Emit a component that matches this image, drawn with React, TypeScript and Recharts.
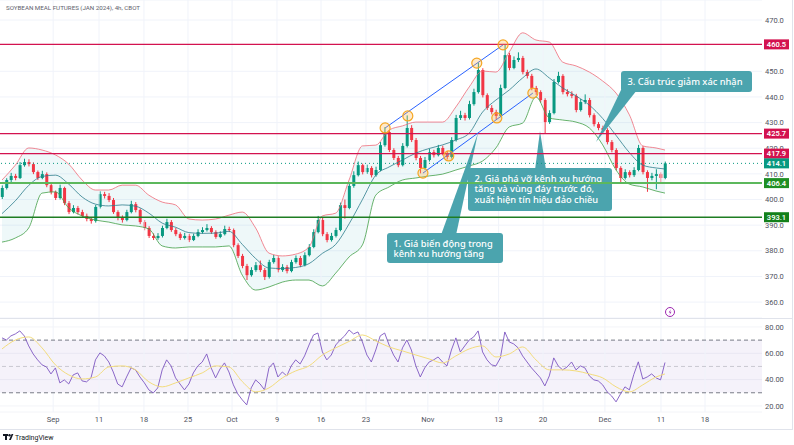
import React from "react";
import {
  ComposedChart,
  Bar,
  Line,
  Area,
  XAxis,
  YAxis,
  CartesianGrid,
  ReferenceLine,
  ReferenceDot,
  ReferenceArea,
} from "recharts";

// 4h candles (two bars per trading day)
const opens = [
  401.0, 404.5, 407.6, 409.2, 408.4, 413.4, 414.6, 413.8, 410.7, 408.4,
  409.9, 405.6, 402.9, 400.6, 404.5, 398.6, 395.1, 396.7, 395.1, 393.6,
  392.4, 391.6, 397.1, 402.1, 401.4, 399.8, 395.1, 392.8, 392.0, 395.1,
  398.2, 395.9, 391.2, 388.9, 385.8, 385.0, 385.8, 388.9, 391.2, 388.1,
  386.5, 385.0, 385.8, 384.2, 385.8, 387.3, 388.1, 388.9, 387.3, 385.4,
  386.5, 388.5, 388.1, 382.2, 378.0, 374.1, 370.5, 372.5, 374.4, 372.5,
  369.8, 375.6, 377.2, 372.5, 373.7, 372.1, 375.6, 377.2, 374.4, 378.3,
  381.5, 387.3, 392.0, 386.5, 384.2, 385.8, 388.1, 397.8, 396.7, 405.3,
  409.5, 413.4, 410.7, 412.3, 409.5, 411.5, 421.2, 426.3, 419.3, 416.2,
  413.4, 420.9, 427.9, 423.2, 416.2, 412.3, 415.4, 418.5, 417.3, 420.1,
  418.1, 416.6, 423.2, 431.8, 432.9, 431.8, 437.2, 441.9, 450.5, 440.7,
  435.7, 434.1, 432.6, 443.5, 456.3, 451.3, 454.4, 455.2, 449.7, 448.2,
  443.5, 441.9, 438.8, 430.2, 433.7, 445.8, 448.2, 441.9, 441.1, 440.4,
  434.9, 438.0, 438.8, 432.9, 429.4, 427.9, 427.1, 422.4, 419.3, 412.3,
  408.4, 410.7, 409.5, 411.5, 420.1, 410.7, 408.4, 409.2, 409.9, 408.4,
];
const highs = [
  405.5, 408.3, 410.4, 410.0, 414.6, 415.9, 415.7, 414.5, 411.3, 411.2,
  410.6, 406.4, 403.5, 405.8, 405.0, 399.4, 397.8, 397.5, 396.0, 394.5,
  393.2, 397.9, 403.2, 403.0, 402.5, 400.6, 395.8, 393.8, 396.0, 399.5,
  399.0, 396.5, 392.0, 389.6, 386.8, 386.9, 389.8, 392.5, 392.0, 389.0,
  387.2, 387.0, 386.6, 386.7, 388.4, 389.2, 390.4, 389.6, 388.0, 387.6,
  389.8, 389.4, 388.7, 382.9, 378.8, 374.9, 373.6, 375.6, 376.2, 373.3,
  376.5, 378.4, 377.9, 374.8, 374.5, 376.5, 378.2, 378.0, 379.4, 382.6,
  388.4, 393.6, 392.8, 387.3, 387.0, 389.0, 398.8, 400.0, 406.5, 411.0,
  414.8, 414.0, 413.6, 413.0, 412.8, 422.4, 428.2, 427.0, 420.0, 417.0,
  422.0, 432.8, 429.0, 424.0, 417.0, 416.6, 419.8, 419.4, 421.3, 421.0,
  419.0, 424.3, 433.0, 434.6, 433.8, 438.5, 443.2, 453.4, 451.2, 441.4,
  436.8, 435.0, 444.8, 460.4, 457.2, 455.8, 457.4, 456.0, 450.6, 449.0,
  444.3, 442.6, 439.5, 434.8, 447.0, 449.8, 448.9, 443.0, 442.2, 441.2,
  439.2, 441.0, 439.6, 433.6, 430.2, 428.8, 427.8, 423.2, 420.0, 413.0,
  411.8, 411.4, 412.6, 421.3, 420.8, 411.4, 410.4, 411.8, 410.6, 414.8,
];
const lows = [
  400.2, 403.9, 406.8, 407.5, 408.0, 412.8, 412.9, 409.9, 407.6, 407.9,
  404.8, 402.0, 399.8, 400.0, 397.8, 394.3, 394.6, 394.2, 392.8, 391.5,
  390.6, 391.0, 396.5, 400.4, 399.0, 394.4, 391.9, 391.0, 391.5, 394.6,
  395.0, 390.4, 388.0, 385.0, 384.2, 384.3, 385.2, 388.4, 387.4, 385.7,
  384.2, 384.4, 383.4, 383.8, 385.3, 386.7, 387.5, 386.6, 384.7, 384.9,
  386.0, 387.3, 381.4, 377.2, 373.2, 368.6, 369.9, 371.8, 371.7, 368.6,
  369.2, 375.0, 371.6, 371.8, 371.2, 371.6, 375.0, 373.6, 373.9, 377.8,
  381.0, 386.8, 385.7, 383.3, 383.6, 385.2, 387.6, 392.5, 396.2, 404.6,
  409.0, 409.8, 410.0, 408.6, 408.9, 411.0, 420.6, 418.5, 415.4, 412.6,
  412.9, 420.3, 422.4, 415.3, 410.2, 411.6, 414.8, 416.4, 416.8, 417.2,
  415.6, 416.0, 422.6, 431.0, 430.8, 431.2, 436.6, 441.3, 439.8, 434.9,
  433.2, 431.2, 432.1, 443.0, 450.4, 450.8, 453.6, 448.8, 447.2, 442.6,
  440.8, 437.8, 425.9, 429.5, 433.2, 445.2, 441.0, 440.2, 439.5, 434.0,
  434.3, 437.2, 432.0, 428.5, 427.0, 426.2, 421.5, 418.4, 411.4, 406.8,
  407.8, 408.6, 408.8, 411.0, 409.8, 403.0, 407.5, 404.0, 406.5, 407.9,
];
const closes = [
  404.5, 407.6, 409.2, 408.4, 413.4, 414.6, 413.8, 410.7, 408.4, 409.9,
  405.6, 402.9, 400.6, 404.5, 398.6, 395.1, 396.7, 395.1, 393.6, 392.4,
  391.6, 397.1, 402.1, 401.4, 399.8, 395.1, 392.8, 392.0, 395.1, 398.2,
  395.9, 391.2, 388.9, 385.8, 385.0, 385.8, 388.9, 391.2, 388.1, 386.5,
  385.0, 385.8, 384.2, 385.8, 387.3, 388.1, 388.9, 387.3, 385.4, 386.5,
  388.5, 388.1, 382.2, 378.0, 374.1, 370.5, 372.5, 374.4, 372.5, 369.8,
  375.6, 377.2, 372.5, 373.7, 372.1, 375.6, 377.2, 374.4, 378.3, 381.5,
  387.3, 392.0, 386.5, 384.2, 385.8, 388.1, 397.8, 396.7, 405.3, 409.5,
  413.4, 410.7, 412.3, 409.5, 411.5, 421.2, 426.3, 419.3, 416.2, 413.4,
  420.9, 427.9, 423.2, 416.2, 412.3, 415.4, 418.5, 417.3, 420.1, 418.1,
  416.6, 423.2, 431.8, 432.9, 431.8, 437.2, 441.9, 450.5, 440.7, 435.7,
  434.1, 432.6, 443.5, 456.3, 451.3, 454.4, 455.2, 449.7, 448.2, 443.5,
  441.9, 438.8, 430.2, 433.7, 445.8, 448.2, 441.9, 441.1, 440.4, 434.9,
  438.0, 438.8, 432.9, 429.4, 427.9, 427.1, 422.4, 419.3, 412.3, 408.4,
  410.7, 409.5, 411.5, 420.1, 410.7, 408.4, 409.2, 409.9, 408.4, 414.1,
];

// Bollinger bands, read every third bar
const bandIdx = [
  0, 3, 6, 9, 12, 15, 18, 21, 24, 27, 30, 33, 36, 39, 42, 45, 48, 51, 54, 57,
  60, 63, 66, 69, 72, 75, 78, 81, 84, 87, 90, 93, 96, 99, 102, 105, 108, 111,
  114, 117, 120, 123, 126, 129, 132, 135, 138, 141, 144, 147, 149,
];
const bbUpper = [
  407.6, 413.4, 420.1, 419.3, 417.4, 413.8, 407.6, 403.7, 403.7, 405.6,
  405.6, 401.7, 399.0, 397.9, 392.4, 392.0, 392.4, 393.9, 395.1, 388.9,
  379.1, 378.0, 378.7, 381.5, 393.6, 394.7, 407.6, 420.9, 421.2, 427.1,
  428.7, 430.2, 430.2, 430.2, 436.1, 443.9, 450.1, 449.7, 457.5, 465.0,
  462.2, 461.4, 453.6, 452.1, 449.7, 446.2, 441.5, 433.0, 420.9, 420.1, 419.3,
];
const bbMid = [
  394.5, 399.5, 405.5, 409.0, 409.5, 406.0, 401.0, 398.2, 397.5, 397.9,
  397.4, 394.7, 390.8, 389.2, 387.1, 386.8, 386.9, 387.6, 382.5, 377.0,
  373.3, 373.1, 373.5, 375.0, 379.0, 382.5, 390.5, 400.0, 409.5, 412.7,
  415.4, 418.1, 419.9, 421.3, 423.2, 425.9, 434.1, 438.8, 442.7, 447.4,
  450.9, 447.4, 443.5, 440.4, 436.8, 431.6, 425.0, 418.3, 413.4, 412.3, 411.9,
];
const bbLower = [
  383.4, 385.0, 388.9, 402.5, 403.0, 396.7, 393.6, 392.0, 391.2, 390.1,
  389.7, 388.5, 381.9, 381.1, 381.5, 381.5, 381.5, 381.9, 370.5, 364.7,
  365.9, 367.8, 368.6, 368.6, 366.3, 371.3, 377.6, 382.3, 401.7, 404.9,
  407.6, 408.4, 409.2, 409.9, 411.5, 413.1, 415.0, 420.1, 428.3, 429.8,
  440.0, 431.8, 431.0, 430.2, 427.9, 421.3, 411.5, 406.0, 404.9, 403.3, 402.5,
];

// RSI (per bar) and its moving average (every third bar)
const rsi = [
  71.7, 70.1, 73.2, 74.7, 77.0, 73.2, 65.6, 59.5, 55.0, 51.2,
  49.6, 44.3, 48.9, 37.5, 39.8, 36.7, 43.6, 45.1, 39.0, 38.3,
  41.3, 55.0, 60.3, 58.0, 53.4, 45.8, 36.7, 34.5, 42.0, 48.9,
  47.4, 42.0, 37.5, 32.2, 29.9, 33.7, 47.4, 55.0, 50.4, 41.3,
  36.7, 32.2, 36.7, 45.1, 50.4, 53.4, 59.5, 48.9, 41.3, 48.1,
  52.7, 45.8, 36.0, 29.1, 24.6, 20.8, 33.7, 39.8, 36.7, 32.2,
  48.9, 52.7, 42.0, 45.8, 42.8, 50.4, 55.0, 51.9, 58.0, 66.3,
  73.9, 75.4, 61.0, 55.0, 58.7, 66.3, 70.1, 73.2, 77.7, 74.7,
  76.2, 68.6, 58.7, 53.4, 62.5, 73.2, 75.4, 66.3, 58.7, 53.4,
  64.1, 70.1, 62.5, 50.4, 42.0, 48.9, 53.4, 55.0, 57.2, 53.4,
  50.4, 62.5, 71.7, 61.0, 65.6, 70.1, 72.4, 77.0, 61.0, 55.0,
  51.2, 50.4, 56.5, 76.2, 68.6, 67.1, 64.1, 58.0, 53.4, 48.9,
  45.1, 41.3, 35.2, 42.8, 56.5, 50.4, 47.4, 49.6, 53.4, 47.4,
  50.4, 48.9, 42.8, 39.8, 39.0, 36.0, 30.7, 27.6, 23.1, 29.1,
  34.5, 32.2, 44.0, 53.5, 40.5, 42.0, 44.3, 41.3, 39.8, 53.0,
];
const rsiMa = [
  63.3, 70.1, 72.4, 64.1, 51.2, 43.6, 40.5, 42.0, 49.6, 50.4,
  47.4, 38.3, 34.5, 37.5, 41.3, 45.1, 50.4, 49.6, 38.5, 30.7,
  33.7, 41.3, 46.6, 50.4, 58.7, 64.1, 69.0, 73.9, 69.4, 64.8,
  61.8, 58.7, 55.7, 52.7, 58.0, 63.3, 65.6, 57.2, 59.5, 64.8,
  55.0, 47.4, 47.4, 46.6, 44.3, 41.3, 34.5, 30.7, 36.0, 42.0, 44.3,
];

// time axis (bar index where each date label sits)
const dateTicks = [11.5, 21.8, 31.9, 41.8, 51.7, 61.8, 71.7, 81.8, 95.7, 111.6, 121.6, 135.5, 148.1, 158];
const dateLabels = ["Sep", "11", "18", "25", "Oct", "9", "16", "23", "Nov", "13", "20", "Dec", "11", "18"];

// 460.0 sits under the 460.5 badge in the reference, so it is not labelled
const priceTicks = [360, 370, 380, 390, 400, 410, 420, 430, 440, 450, 470];
const rsiTicks = [20, 40, 60, 80];

// drawn levels and channel
const levels = [460.5, 425.7, 417.9, 414.1, 406.4, 393.1];
const channelUpper = [
  [86.1, 427.9],
  [112.6, 460.3],
];
const channelLower = [
  [94.6, 410.3],
  [119.3, 441.5],
];
const pivots = [
  [86.1, 427.9],
  [91.2, 432.6],
  [106.7, 453.2],
  [112.6, 460.3],
  [94.6, 410.3],
  [100.4, 417.0],
  [111.2, 431.8],
  [119.3, 441.5],
];

const UP = "#089981";
const DOWN = "#f23645";
const CRIMSON = "#d3124f";
const CALLOUT = "#4ba4ae";
const AXIS_FONT = { fontSize: 7.5, fill: "#50535e", fontFamily: "Roboto, sans-serif" };

const levelStyle = [
  { stroke: CRIMSON, width: 1.4, dash: undefined, badge: CRIMSON },
  { stroke: CRIMSON, width: 1.4, dash: undefined, badge: CRIMSON },
  { stroke: CRIMSON, width: 1.4, dash: undefined, badge: CRIMSON },
  { stroke: UP, width: 1, dash: "1 3", badge: UP },
  { stroke: "#5cb85c", width: 2, dash: undefined, badge: "#1f8f23" },
  { stroke: "#1e7d22", width: 1.4, dash: undefined, badge: "#13801a" },
];

const W = 794;
const AXIS_W = 32;
const MAIN_H = 318;
const PRICE_DOMAIN: [number, number] = [353.8, 477.8];
const X_DOMAIN: [number, number] = [-0.45, 170.8];
const NO_MARGIN = { top: 0, right: 0, bottom: 0, left: 0 };

const rows = closes.map((c, i) => ({
  i,
  o: opens[i],
  h: highs[i],
  l: lows[i],
  c,
  range: [lows[i], highs[i]],
  rsi: rsi[i],
}));

const bandRows = bandIdx.map((i, k) => ({
  i,
  up: bbUpper[k],
  mid: bbMid[k],
  lo: bbLower[k],
  band: [bbLower[k], bbUpper[k]],
  ma: rsiMa[k],
}));

function Candle(props: any) {
  const { x, width, payload } = props;
  let { y, height } = props;
  if (height < 0) {
    y += height;
    height = -height;
  }
  const { o, c, h, l } = payload;
  const color = c >= o ? UP : DOWN;
  const k = h > l ? height / (h - l) : 0;
  const top = y + (h - Math.max(o, c)) * k;
  const bodyH = Math.max(1, Math.abs(c - o) * k);
  const cx = x + width / 2;
  return (
    <g>
      <line x1={cx} x2={cx} y1={y} y2={y + height} stroke={color} strokeWidth={1} />
      <rect x={x} y={top} width={width} height={bodyH} fill={color} />
    </g>
  );
}

function Badge({ viewBox, text, bg }: any) {
  if (!viewBox) return null;
  const { x, y, width } = viewBox;
  return (
    <g>
      <rect x={x + width + 2} y={y - 5} width={25} height={10} fill={bg} />
      <text
        x={x + width + 14.5}
        y={y + 2.8}
        textAnchor="middle"
        fontSize={7.5}
        fontWeight={600}
        fill="#fff"
        fontFamily="Roboto, sans-serif"
      >
        {text}
      </text>
    </g>
  );
}

function Callout({ x, y, w, h, lines, tail }: any) {
  return (
    <g>
      <polygon points={tail} fill={CALLOUT} />
      <rect x={x} y={y} width={w} height={h} rx={3} fill={CALLOUT} />
      {lines.map((t: string, k: number) => (
        <text
          key={k}
          x={x + 6.5}
          y={y + 13.8 + k * 10.4}
          fontSize={9.3}
          fontWeight={500}
          fill="#fff"
          fontFamily="'Noto Sans', sans-serif"
        >
          {t}
        </text>
      ))}
    </g>
  );
}

const noDot = { dot: false, activeDot: false, legendType: "none" as const, isAnimationActive: false };
const layer = { position: "absolute" as const, left: 0, top: 0 };

export default function App() {
  return (
    <div style={{ position: "relative", width: W, height: 445, background: "#fff" }}>
      <style>{"body{margin:0}"}</style>

      {/* price pane: grid, bands and candles */}
      <div style={layer}>
        <ComposedChart width={W} height={MAIN_H} data={rows} margin={NO_MARGIN}>
          <CartesianGrid vertical={false} stroke="#f0f3fa" />
          <XAxis dataKey="i" type="number" domain={X_DOMAIN} allowDataOverflow hide />
          <YAxis
            orientation="right"
            width={AXIS_W}
            type="number"
            domain={PRICE_DOMAIN}
            allowDataOverflow
            ticks={priceTicks}
            interval={0}
            tickFormatter={(v: number) => v.toFixed(1)}
            axisLine={false}
            tickLine={false}
            tickSize={0}
            tickMargin={3}
            tick={AXIS_FONT}
          />
          {dateTicks.map((t) => (
            <ReferenceLine key={"g" + t} x={t} stroke="#f0f3fa" />
          ))}
          <Area
            data={bandRows}
            dataKey="band"
            type="monotone"
            stroke="none"
            fill="#2aa7b5"
            fillOpacity={0.08}
            {...noDot}
          />
          <Line data={bandRows} dataKey="up" type="monotone" stroke="#ef6b78" strokeWidth={0.8} {...noDot} />
          <Line data={bandRows} dataKey="mid" type="monotone" stroke="#2c7c8c" strokeWidth={0.8} {...noDot} />
          <Line data={bandRows} dataKey="lo" type="monotone" stroke="#43a047" strokeWidth={0.8} {...noDot} />
          <Bar dataKey="range" barSize={3} shape={Candle} isAnimationActive={false} />
        </ComposedChart>
      </div>

      {/* RSI pane with the time axis */}
      <div style={{ ...layer, top: MAIN_H }}>
        <ComposedChart width={W} height={112} data={rows} margin={NO_MARGIN}>
          <CartesianGrid vertical={false} stroke="#f3f4f8" />
          <XAxis
            dataKey="i"
            type="number"
            domain={X_DOMAIN}
            allowDataOverflow
            ticks={dateTicks}
            interval={0}
            tickFormatter={(v: number) => dateLabels[dateTicks.indexOf(v)] ?? ""}
            height={18}
            axisLine={false}
            tickLine={false}
            tickSize={0}
            tickMargin={5}
            tick={AXIS_FONT}
          />
          <YAxis
            orientation="right"
            width={AXIS_W}
            type="number"
            domain={[15.4, 86.8]}
            allowDataOverflow
            ticks={rsiTicks}
            interval={0}
            tickFormatter={(v: number) => v.toFixed(2)}
            axisLine={false}
            tickLine={false}
            tickSize={0}
            tickMargin={3}
            tick={AXIS_FONT}
          />
          {dateTicks.map((t) => (
            <ReferenceLine key={"rg" + t} x={t} stroke="#f0f3fa" />
          ))}
          <ReferenceArea y1={30} y2={70} fill="#7e57c2" fillOpacity={0.08} stroke="none" />
          <ReferenceLine y={70} stroke="#787b86" strokeDasharray="4 3" />
          <ReferenceLine y={50} stroke="#787b86" strokeOpacity={0.35} strokeDasharray="4 3" />
          <ReferenceLine y={30} stroke="#787b86" strokeDasharray="4 3" />
          <Line dataKey="rsi" type="linear" stroke="#7e57c2" strokeWidth={0.9} {...noDot} />
          <Line data={bandRows} dataKey="ma" type="monotone" stroke="#f3dc7d" strokeWidth={1} {...noDot} />
        </ComposedChart>
      </div>

      {/* text boxes, frame and header */}
      <svg width={W} height={445} style={{ ...layer, pointerEvents: "none" }}>
        <text x={6} y={9.5} fontSize={6.2} fill="#5d606b" fontFamily="Roboto, sans-serif">
          SOYBEAN MEAL FUTURES (JAN 2024), 4h, CBOT
        </text>
        <line x1={0} x2={792} y1={318.5} y2={318.5} stroke="#e0e3eb" />
        <line x1={0} x2={792} y1={429.5} y2={429.5} stroke="#e0e3eb" />
        <line x1={792.5} x2={792.5} y1={0} y2={430} stroke="#e0e3eb" />

        <Callout
          x={387}
          y={233}
          w={116}
          h={30}
          lines={["1. Giá biến động trong", "kênh xu hướng tăng"]}
          tail="441,235 456,235 478,133"
        />
        <Callout
          x={468}
          y={168}
          w={144}
          h={43}
          lines={["2. Giá phá vỡ kênh xu hướng", "tăng và vùng đáy trước đó,", "xuất hiện tín hiệu đảo chiều"]}
          tail="535,170 546,170 540,131"
        />
        <Callout
          x={621}
          y={71}
          w={131}
          h={21}
          lines={["3. Cấu trúc giảm xác nhận"]}
          tail="621,90 637,90 596,142"
        />

        <circle cx={670} cy={312} r={4.5} fill="#fff" stroke="#9c27b0" strokeWidth={1} />
        <path d="M671 308.9 L668.7 312.4 L670.3 312.4 L669.3 315.2 L671.5 311.7 L669.9 311.7 Z" fill="#9c27b0" />

        <g fill="#131722">
          <rect x={3} y={434} width={5} height={2} />
          <rect x={5} y={434} width={2} height={6} />
          <circle cx={9.5} cy={435.2} r={1.2} />
          <polygon points="9,440 11.6,434 13.4,434 10.8,440" />
        </g>
        <text x={15} y={440} fontSize={7} fill="#131722" fontFamily="Roboto, sans-serif">
          TradingView
        </text>
      </svg>

      {/* drawings on top: levels with axis badges, channel and pivots */}
      <div style={{ ...layer, pointerEvents: "none" }}>
        <ComposedChart width={W} height={MAIN_H} data={rows} margin={NO_MARGIN}>
          <XAxis dataKey="i" type="number" domain={X_DOMAIN} allowDataOverflow hide />
          <YAxis
            orientation="right"
            width={AXIS_W}
            type="number"
            domain={PRICE_DOMAIN}
            allowDataOverflow
            tick={false}
            axisLine={false}
            tickLine={false}
          />
          {levels.map((v, k) => (
            <ReferenceLine
              key={"lv" + v}
              y={v}
              stroke={levelStyle[k].stroke}
              strokeWidth={levelStyle[k].width}
              strokeDasharray={levelStyle[k].dash}
              label={(p: any) => <Badge viewBox={p.viewBox} text={v.toFixed(1)} bg={levelStyle[k].badge} />}
            />
          ))}
          {[channelUpper, channelLower].map((seg, k) => (
            <ReferenceLine
              key={"ch" + k}
              segment={seg.map(([x, y]) => ({ x, y }))}
              stroke="#2962ff"
              strokeWidth={1}
            />
          ))}
          {pivots.map(([x, y], k) => (
            <ReferenceDot
              key={"pv" + k}
              x={x}
              y={y}
              r={5}
              fill="#ffb74d"
              fillOpacity={0.3}
              stroke="#f5a623"
              strokeWidth={1.2}
            />
          ))}
        </ComposedChart>
      </div>
    </div>
  );
}
